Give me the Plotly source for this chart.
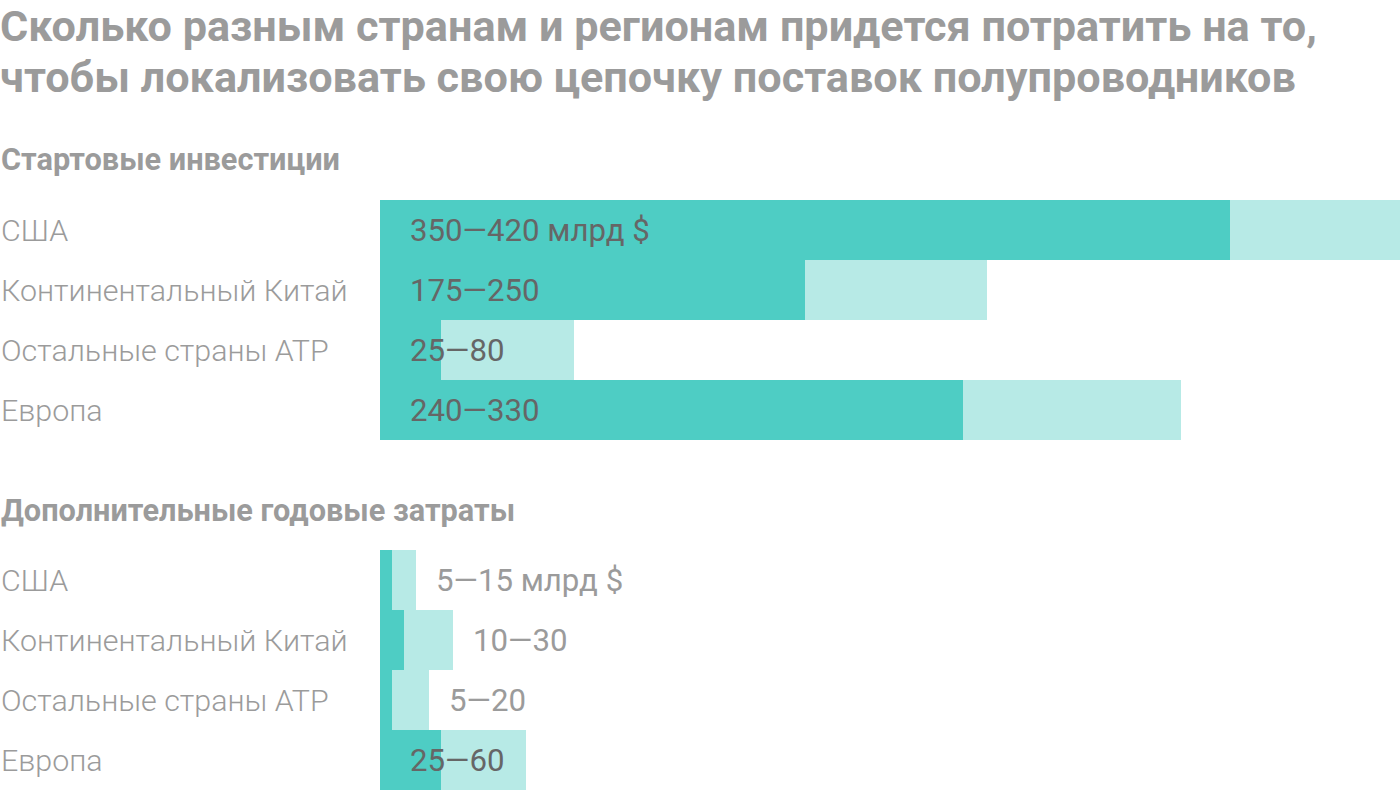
import plotly.graph_objects as go

regions = ["США", "Континентальный Китай", "Остальные страны АТР", "Европа"]
start_low = [350, 175, 25, 240]
start_high = [420, 250, 80, 330]
annual_low = [5, 10, 5, 25]
annual_high = [15, 30, 20, 60]
unit = " млрд $"

title_lines = ["Сколько разным странам и регионам придется потратить на то,",
               "чтобы локализовать свою цепочку поставок полупроводников"]
section_titles = ["Стартовые инвестиции", "Дополнительные годовые затраты"]

DARK = "#4ECDC4"
LIGHT = "#B7EAE6"
W, H = 1400, 792
FONT = "Roboto"

fig = go.Figure()
sections = [(start_low, start_high, "y"), (annual_low, annual_high, "y2")]
for low, high, yax in sections:
    fig.add_trace(go.Bar(y=regions, x=high, orientation="h", marker=dict(color=LIGHT, line=dict(width=0)),
                         width=1, yaxis=yax, xaxis="x", hoverinfo="skip"))
    fig.add_trace(go.Bar(y=regions, x=low, orientation="h", marker=dict(color=DARK, line=dict(width=0)),
                         width=1, yaxis=yax, xaxis="x", hoverinfo="skip"))

annotations = []
for s, (low, high, yax) in enumerate(sections):
    for i, r in enumerate(regions):
        annotations.append(dict(x=0, xref="paper", y=r, yref=yax, text=r, showarrow=False,
                                xanchor="left", yanchor="middle", xshift=-1,
                                font=dict(family=FONT, size=30.4, color="#9b9b9b", weight=300)))
        label = f"{low[i]}—{high[i]}" + (unit if i == 0 else "")
        inside = high[i] >= 40
        if inside:
            annotations.append(dict(x=0, xref="x", y=r, yref=yax, text=label, showarrow=False,
                                    xanchor="left", yanchor="middle", xshift=28,
                                    font=dict(family=FONT, size=31.2, color="#666666")))
        else:
            annotations.append(dict(x=high[i], xref="x", y=r, yref=yax, text=label, showarrow=False,
                                    xanchor="left", yanchor="middle", xshift=18,
                                    font=dict(family=FONT, size=31.2, color="#9b9b9b")))

annotations.append(dict(x=0, xref="paper", y=1, yref="paper", text=title_lines[0],
                        showarrow=False, xanchor="left", yanchor="top", xshift=-1, borderpad=0,
                        font=dict(family=FONT, size=43.2, color="#9b9b9b", weight="bold")))
annotations.append(dict(x=0, xref="paper", y=1 - 51 / H, yref="paper", text=title_lines[1],
                        showarrow=False, xanchor="left", yanchor="top", xshift=-1, borderpad=0,
                        font=dict(family=FONT, size=43.2, color="#9b9b9b", weight="bold")))
for k, t in enumerate(section_titles):
    annotations.append(dict(x=0, xref="paper", y=1 - [160, 510][k] / H, yref="paper", text=t,
                            showarrow=False, xanchor="left", yanchor="middle", xshift=-1,
                            font=dict(family=FONT, size=30.7, color="#9b9b9b", weight="bold")))

axis_common = dict(showgrid=False, zeroline=False, showline=False, showticklabels=False, ticks="")
fig.update_layout(
    width=W, height=H, margin=dict(l=0, r=0, t=0, b=0),
    paper_bgcolor="white", plot_bgcolor="white", showlegend=False,
    barmode="overlay", bargap=0,
    xaxis=dict(domain=[380 / W, 1], range=[0, 420], anchor="y", **axis_common),
    yaxis=dict(domain=[1 - 440 / H, 1 - 200 / H], autorange="reversed", type="category", **axis_common),
    yaxis2=dict(domain=[1 - 790 / H, 1 - 550 / H], autorange="reversed", type="category", anchor="x", **axis_common),
    annotations=annotations,
)
fig.write_html("out.html")
